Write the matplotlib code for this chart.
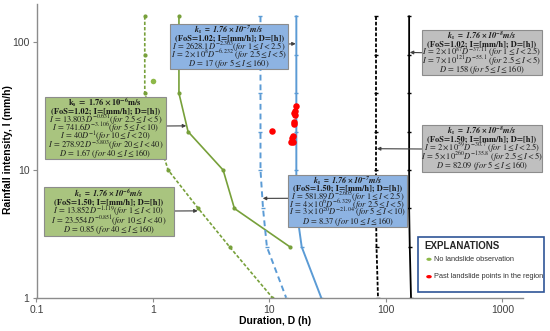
import matplotlib
matplotlib.use("Agg")
import matplotlib.pyplot as plt
from matplotlib.patches import Rectangle, Circle
import numpy as np

plt.rcParams['mathtext.fontset'] = 'stix'

# ---------------- data ----------------
green_solid_I = [160, 80, 40, 20, 10, 5, 2.5]
green_solid_D = [1.67, 1.67, 1.67, 2.0, 4.0, 5.0, 15.0]

green_dash_I = [160, 80, 40, 20, 10, 5, 2.5, 1]
green_dash_D = [0.85, 0.85, 0.85, 1.06, 1.35, 2.45, 4.55, 10.6]

blue_solid_I = [160, 80, 40, 20, 10, 5, 2.5, 1]
blue_solid_D = [17, 17, 17, 17, 17, 17, 18.9, 27.8]

blue_dash_I = [160, 80, 40, 20, 10, 5, 2.5, 1]
blue_dash_D = [8.37, 8.37, 8.37, 8.37, 8.37, 8.8, 9.5, 13.9]

black_solid_I = [160, 80, 40, 20, 10, 5, 2.5, 1]
black_solid_D = [158, 158, 158, 158, 158, 158, 160, 164]

black_dash_I = [160, 80, 40, 20, 10, 5, 2.5, 1]
black_dash_D = [82.09, 82.09, 82.09, 82.09, 82.09, 82.09, 82.9, 85.4]

no_slide_D = [1.0]
no_slide_I = [50]

past_D = [16.9, 16.4, 16.3, 16.6, 16.1, 16.3, 10.5, 15.9, 15.7, 15.3, 15.9]
past_I = [31.9, 29.1, 27.9, 27.1, 23.6, 22.9, 20.3, 18.6, 17.9, 16.7, 16.5]

x_ticks = [0.1, 1, 10, 100, 1000]
x_ticklabels = ['0.1', '1', '10', '100', '1000']
y_ticks = [1, 10, 100]
y_ticklabels = ['1', '10', '100']

# ---------------- figure ----------------
W, H = 550, 331
fig = plt.figure(figsize=(W / 100, H / 100), dpi=100)

def fx(px):
    return px / W

def fy(py):
    return 1 - py / H

L, R, T, B = 36.5, 523, 4, 297.7
ax = fig.add_axes([fx(L), fy(B), fx(R) - fx(L), fy(T) - fy(B)])
ax.set_xscale('log')
ax.set_yscale('log')
ax.set_xlim(0.1, 1500)
ax.set_ylim(1, 200)

green = '#77A03A'
blue = '#5B9BD5'
black = '#000000'

ax.plot(green_solid_D, green_solid_I, color=green, lw=1.2, marker='o', ms=2)
ax.plot(green_dash_D, green_dash_I, color=green, lw=1.2, ls=(0, (2, 1.2)), marker='o', ms=2)
ax.plot(blue_solid_D, blue_solid_I, color=blue, lw=1.4, marker='_', ms=3)
ax.plot(blue_dash_D, blue_dash_I, color=blue, lw=1.4, ls=(0, (3, 2)), marker='_', ms=3)
ax.plot(black_solid_D, black_solid_I, color=black, lw=1.3, marker='_', ms=3)
ax.plot(black_dash_D, black_dash_I, color=black, lw=1.3, ls=(0, (2, 1)), marker='_', ms=3)

ax.scatter(no_slide_D, no_slide_I, s=16, color='#8DB848', zorder=5, linewidths=0)
ax.scatter(past_D, past_I, s=22, color='#FF0000', zorder=5, linewidths=0)

for s in ['top', 'right']:
    ax.spines[s].set_visible(False)
for s in ['left', 'bottom']:
    ax.spines[s].set_color('#8C8C8C')
    ax.spines[s].set_linewidth(1.0)
ax.set_xticks(x_ticks)
ax.set_xticklabels(x_ticklabels)
ax.set_yticks(y_ticks)
ax.set_yticklabels(y_ticklabels)
ax.minorticks_off()
ax.tick_params(axis='both', which='major', length=3, color='#8C8C8C',
               labelsize=7.5, pad=2, direction='out')
for lab in ax.get_xticklabels() + ax.get_yticklabels():
    lab.set_fontfamily('Liberation Sans')
    lab.set_color('#404040')

fig.text(fx(275), fy(321.5), 'Duration, D (h)', ha='center', va='center',
         fontsize=7.5, fontweight='bold', family='Liberation Sans')
fig.text(fx(8), fy(150), 'Rainfall intensity, I (mm/h)', ha='center', va='center',
         rotation=90, fontsize=7.5, fontweight='bold', family='Liberation Sans')

# ---------------- annotation boxes ----------------
def draw_box(x0, y0, x1, y1, fill, lines, fs=6.0):
    rect = Rectangle((fx(x0), fy(y1)), fx(x1) - fx(x0), fy(y0) - fy(y1),
                     transform=fig.transFigure, facecolor=fill,
                     edgecolor='#8C8C8C', lw=0.8, zorder=3)
    fig.patches.append(rect)
    n = len(lines)
    pad = 1.5
    lh = (y1 - y0 - 2 * pad) / n
    cx = (x0 + x1) / 2
    for i, (txt, kw) in enumerate(lines):
        yy = y0 + pad + (i + 0.5) * lh
        fig.text(fx(cx), fy(yy), txt, ha='center', va='center',
                 fontsize=fs, color='#1a1a1a', zorder=4, **kw)

def arrow(tail_px, tip_data):
    ax.annotate('', xy=tip_data, xycoords='data',
                xytext=(fx(tail_px[0]), fy(tail_px[1])), textcoords='figure fraction',
                arrowprops=dict(arrowstyle='-|>', color='#404040', lw=0.8,
                                mutation_scale=5, shrinkA=0, shrinkB=0),
                zorder=4)

sb = dict(family='STIXGeneral', fontweight='bold')
mt = dict()

green_fill = '#A9C47F'
blue_fill = '#8DB3E2'
gray_fill = '#BFBFBF'

draw_box(45, 97.3, 165.7, 159.3, green_fill, [
    (r'$\mathbf{k_s\ =\ 1.76\times10^{-6}m/s}$', mt),
    ('(FoS=1.02; I=[mm/h]; D=[h])', sb),
    (r'$I\,=\,13.803D^{-0.631}(for\ 2.5\leq I<5)$', mt),
    (r'$I\,=\,741.6D^{-3.106}(for\ 5\leq I<10)$', mt),
    (r'$I\,=\,40D^{-1}(for\ 10\leq I<20)$', mt),
    (r'$I\,=\,278.92D^{-3.803}(for\ 20\leq I<40)$', mt),
    (r'$D\,=\,1.67\ (for\ 40\leq I\leq 160)$', mt),
])
arrow((165.7, 126), (1.93, 22.2))

draw_box(44, 187.3, 174, 236, green_fill, [
    (r'$\mathbfit{k_s\ =\ 1.76\times10^{-6}m/s}$', mt),
    ('(FoS=1.50; I=[mm/h]; D=[h])', sb),
    (r'$I\,=\,13.852D^{-1.119}(for\ 1\leq I<10)$', mt),
    (r'$I\,=\,23.554D^{-0.851}(for\ 10\leq I<40)$', mt),
    (r'$D\,=\,0.85\ (for\ 40\leq I\leq 160)$', mt),
])
arrow((174, 211), (2.42, 4.79))

draw_box(170, 24.3, 288.3, 69, blue_fill, [
    (r'$\mathbfit{k_s\ =\ 1.76\times10^{-7}m/s}$', mt),
    ('(FoS=1.02; I=[mm/h]; D=[h])', sb),
    (r'$I\,=\,2628.1D^{-2.363}(for\ 1\leq I<2.5)$', mt),
    (r'$I\,=\,2\times10^{8}D^{-6.232}\ (for\ 2.5\leq I<5)$', mt),
    (r'$D\,=\,17\ (for\ 5\leq I\leq 160)$', mt),
])
arrow((288.3, 44), (16.8, 97.7))

draw_box(288.3, 175, 406.7, 226.7, blue_fill, [
    (r'$\mathbfit{k_s\ =\ 1.76\times10^{-7}m/s}$', mt),
    ('(FoS=1.50; I=[mm/h]; D=[h])', sb),
    (r'$I\,=\,581.89D^{-2.605}(for\ 1\leq I<2.5)$', mt),
    (r'$I\,=\,4\times10^{6}D^{-6.329}\ (for\ 2.5\leq I<5)$', mt),
    (r'$I\,=\,3\times10^{20}D^{-21.04}\ (for\ 5\leq I<10)$', mt),
    (r'$D\,=\,8.37\ (for\ 10\leq I\leq 160)$', mt),
])
arrow((288.3, 198.3), (8.75, 6.0))

draw_box(421.7, 30, 542.3, 75, gray_fill, [
    (r'$\mathbfit{k_s\ =\ 1.76\times10^{-8}m/s}$', mt),
    ('(FoS=1.02; I=[mm/h]; D=[h])', sb),
    (r'$I\,=\,2\times10^{87}D^{-37.11}\ (for\ 1\leq I<2.5)$', mt),
    (r'$I\,=\,7\times10^{121}D^{-55.1}\ (for\ 2.5\leq I<5)$', mt),
    (r'$D\,=\,158\ (for\ 5\leq I\leq 160)$', mt),
])
arrow((421.7, 52.7), (160, 83.5))

draw_box(421.7, 125, 542.3, 171.7, gray_fill, [
    (r'$\mathbfit{k_s\ =\ 1.76\times10^{-8}m/s}$', mt),
    ('(FoS=1.50; I=[mm/h]; D=[h])', sb),
    (r'$I\,=\,2\times10^{59}D^{-30.7}\ (for\ 1\leq I<2.5)$', mt),
    (r'$I\,=\,5\times10^{260}D^{-135.8}\ (for\ 2.5\leq I<5)$', mt),
    (r'$D\,=\,82.09\ (for\ 5\leq I\leq 160)$', mt),
])
arrow((421.7, 149), (83.5, 14.7))

# ---------------- legend box ----------------
leg = Rectangle((fx(418.3), fy(292.3)), fx(544.3) - fx(418.3), fy(237.3) - fy(292.3),
                transform=fig.transFigure, facecolor='white', edgecolor='#2F5597',
                lw=1.2, zorder=3)
fig.patches.append(leg)
fig.text(fx(424.3), fy(246), 'EXPLANATIONS', ha='left', va='center', fontsize=7,
         fontweight='bold', family='Liberation Sans', color='#262626', zorder=4)
fig.patches.append(Circle((fx(429), fy(259.3)), 2.6 / W, transform=fig.transFigure,
                          facecolor='#8DB848', edgecolor='none', zorder=4))
fig.patches.append(Circle((fx(429), fy(276.7)), 2.8 / W, transform=fig.transFigure,
                          facecolor='#FF0000', edgecolor='none', zorder=4))
fig.text(fx(434.3), fy(259.3), 'No landslide observation', ha='left', va='center',
         fontsize=5.3, family='Liberation Sans', color='#333333', zorder=4)
fig.text(fx(434.3), fy(276.7), 'Past landslide points in the region', ha='left',
         va='center', fontsize=5.3, family='Liberation Sans', color='#333333', zorder=4)

fig.savefig('out.png', dpi=100)
